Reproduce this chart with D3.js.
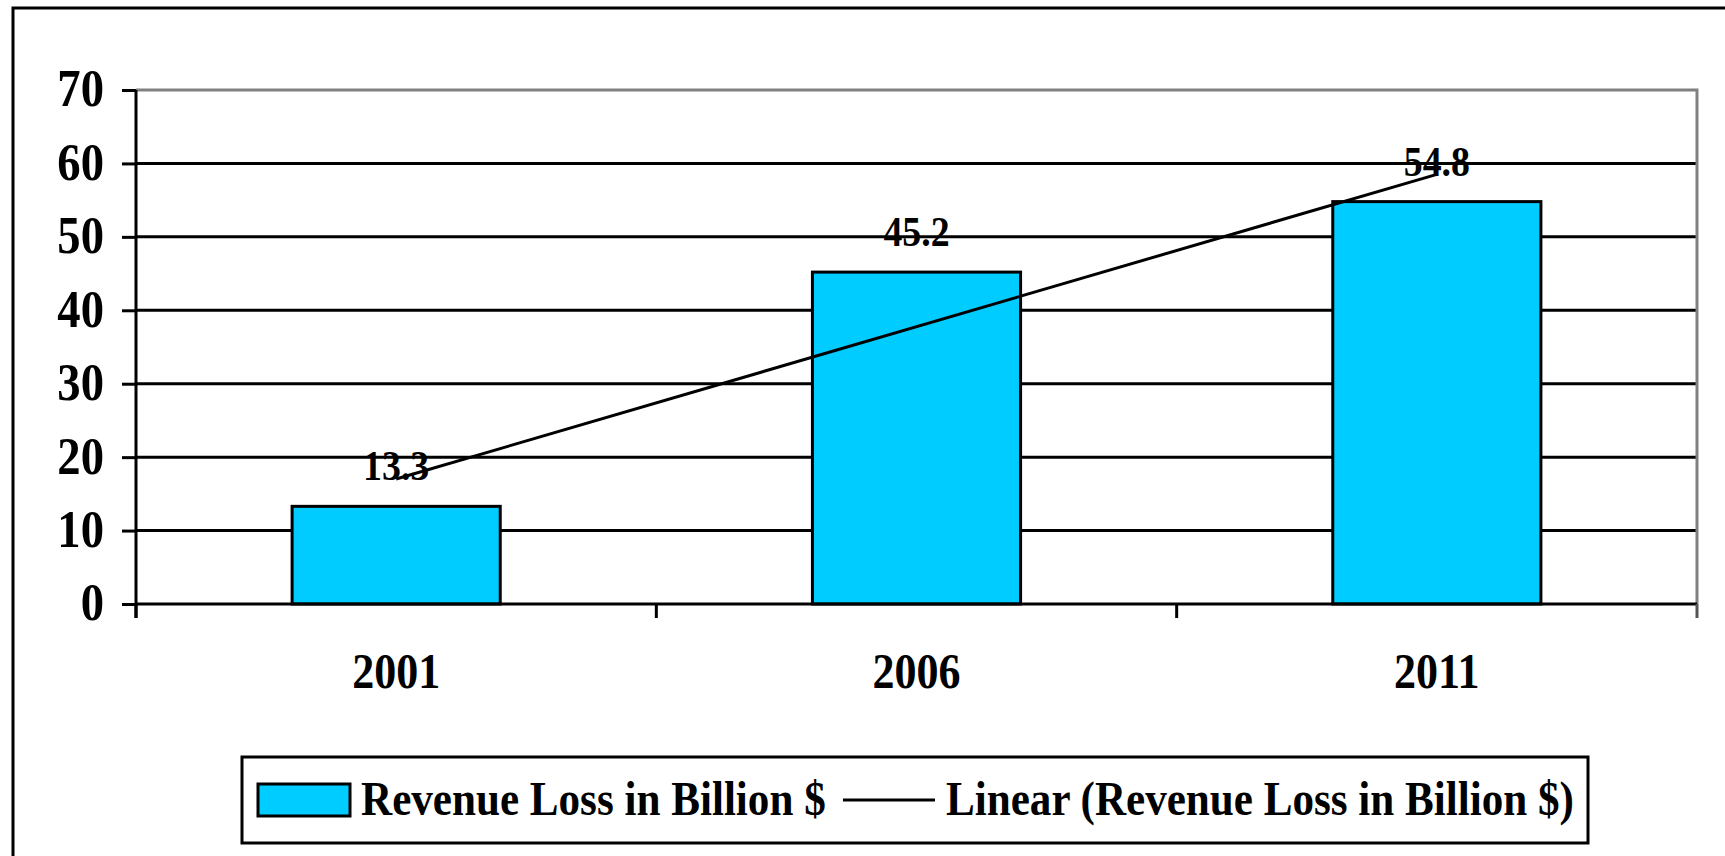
<!DOCTYPE html>
<html>
<head>
<meta charset="utf-8">
<script src="https://cdn.jsdelivr.net/npm/d3@7"></script>
<style>
  body { margin: 0; background: #fff; }
  text { font-family: "Liberation Serif", "Times New Roman", serif; font-weight: bold; fill: #000; }
</style>
</head>
<body>
<svg id="chart"></svg>
<script>
// Revenue loss bar chart with a linear trend line, Excel-style

const categories = ["2001", "2006", "2011"];
const revenueLoss = [13.3, 45.2, 54.8];
const yTicks = [0, 10, 20, 30, 40, 50, 60, 70];
const seriesName = "Revenue Loss in Billion $";
const trendName = "Linear (Revenue Loss in Billion $)";

const width = 1725, height = 856;
const plot = { left: 136, right: 1697, top: 90, bottom: 604 };
const squeeze = 0.88; // the fonts look horizontally condensed
const lineW = 3;

const svg = d3.select("#chart")
    .attr("width", width)
    .attr("height", height);

// outer chart frame (runs off the right and bottom edges)
svg.append("rect")
    .attr("x", 13).attr("y", 8)
    .attr("width", 1800).attr("height", 900)
    .attr("fill", "none")
    .attr("stroke", "#000")
    .attr("stroke-width", 3);

const x = d3.scaleBand()
    .domain(categories)
    .range([plot.left, plot.right])
    .paddingInner(0.6)
    .paddingOuter(0.3);

const y = d3.scaleLinear()
    .domain([0, 70])
    .range([plot.bottom, plot.top]);

// gridlines
svg.append("g")
    .selectAll("line")
    .data(yTicks.filter(v => v > 0 && v < 70))
    .enter().append("line")
    .attr("x1", plot.left).attr("x2", plot.right)
    .attr("y1", d => y(d)).attr("y2", d => y(d))
    .attr("stroke", "#000")
    .attr("stroke-width", lineW);

// plot area border, top and right in grey
svg.append("path")
    .attr("d", `M${plot.left},${y(70)}H${plot.right}V${plot.bottom}`)
    .attr("fill", "none")
    .attr("stroke", "#808080")
    .attr("stroke-width", lineW);

// bars
svg.append("g")
    .selectAll("rect")
    .data(revenueLoss)
    .enter().append("rect")
    .attr("x", (d, i) => x(categories[i]))
    .attr("y", d => y(d))
    .attr("width", x.bandwidth())
    .attr("height", d => y(0) - y(d))
    .attr("fill", "#00CCFF")
    .attr("stroke", "#000")
    .attr("stroke-width", lineW);

// y axis
const yAxis = svg.append("g")
    .attr("transform", `translate(${plot.left},0)`)
    .call(d3.axisLeft(y).tickValues(yTicks).tickSize(14).tickSizeOuter(0));
yAxis.select(".domain").remove();
yAxis.selectAll("line").attr("stroke", "#000").attr("stroke-width", lineW);
yAxis.selectAll("text")
    .attr("x", 0)
    .attr("dy", "0.3em")
    .attr("transform", `translate(-32,0) scale(${squeeze},1)`)
    .attr("font-size", 53)
    .style("font-family", "'Liberation Serif', 'Times New Roman', serif")
    .style("font-weight", "bold")
    .attr("fill", "#000");

svg.append("line")
    .attr("x1", plot.left).attr("x2", plot.left)
    .attr("y1", y(70)).attr("y2", plot.bottom + 14)
    .attr("stroke", "#000").attr("stroke-width", lineW);

// x axis: baseline, boundary ticks and labels
svg.append("line")
    .attr("x1", plot.left).attr("x2", plot.right)
    .attr("y1", y(0)).attr("y2", y(0))
    .attr("stroke", "#000").attr("stroke-width", lineW);

const boundaries = d3.range(categories.length + 1).map(i => plot.left + i * x.step());
svg.append("g")
    .selectAll("line")
    .data(boundaries)
    .enter().append("line")
    .attr("x1", d => d).attr("x2", d => d)
    .attr("y1", y(0)).attr("y2", y(0) + 14)
    .attr("stroke", (d, i) => i === boundaries.length - 1 ? "#555" : "#000")
    .attr("stroke-width", lineW);

svg.append("g")
    .selectAll("text")
    .data(categories)
    .enter().append("text")
    .attr("transform", d => `translate(${x(d) + x.bandwidth() / 2},688) scale(${squeeze},1)`)
    .attr("text-anchor", "middle")
    .attr("font-size", 50)
    .text(d => d);

// linear trend line (least squares over category index)
const xs = revenueLoss.map((d, i) => i);
const mx = d3.mean(xs), my = d3.mean(revenueLoss);
const slope = d3.sum(xs, (v, i) => (v - mx) * (revenueLoss[i] - my)) / d3.sum(xs, v => (v - mx) ** 2);
const intercept = my - slope * mx;
const center = i => x(categories[i]) + x.bandwidth() / 2;

svg.append("line")
    .attr("x1", center(0)).attr("y1", y(intercept))
    .attr("x2", center(categories.length - 1)).attr("y2", y(intercept + slope * (categories.length - 1)))
    .attr("stroke", "#000")
    .attr("stroke-width", lineW);

// value labels
svg.append("g")
    .selectAll("text")
    .data(revenueLoss)
    .enter().append("text")
    .attr("transform", (d, i) => `translate(${center(i)},${y(d) - 26}) scale(${squeeze},1)`)
    .attr("text-anchor", "middle")
    .attr("font-size", 43)
    .text(d => d.toFixed(1));

// legend
const legend = svg.append("g");
legend.append("rect")
    .attr("x", 242).attr("y", 757)
    .attr("width", 1346).attr("height", 86)
    .attr("fill", "#fff")
    .attr("stroke", "#000")
    .attr("stroke-width", 3);
legend.append("rect")
    .attr("x", 258).attr("y", 784)
    .attr("width", 92).attr("height", 32)
    .attr("fill", "#00CCFF")
    .attr("stroke", "#000")
    .attr("stroke-width", lineW);
legend.append("text")
    .attr("transform", `translate(361,815) scale(${squeeze},1)`)
    .attr("font-size", 49)
    .text(seriesName);
legend.append("line")
    .attr("x1", 843).attr("x2", 935)
    .attr("y1", 800).attr("y2", 800)
    .attr("stroke", "#000")
    .attr("stroke-width", lineW);
legend.append("text")
    .attr("transform", `translate(946,815) scale(${squeeze},1)`)
    .attr("font-size", 49)
    .text(trendName);
</script>
</body>
</html>
